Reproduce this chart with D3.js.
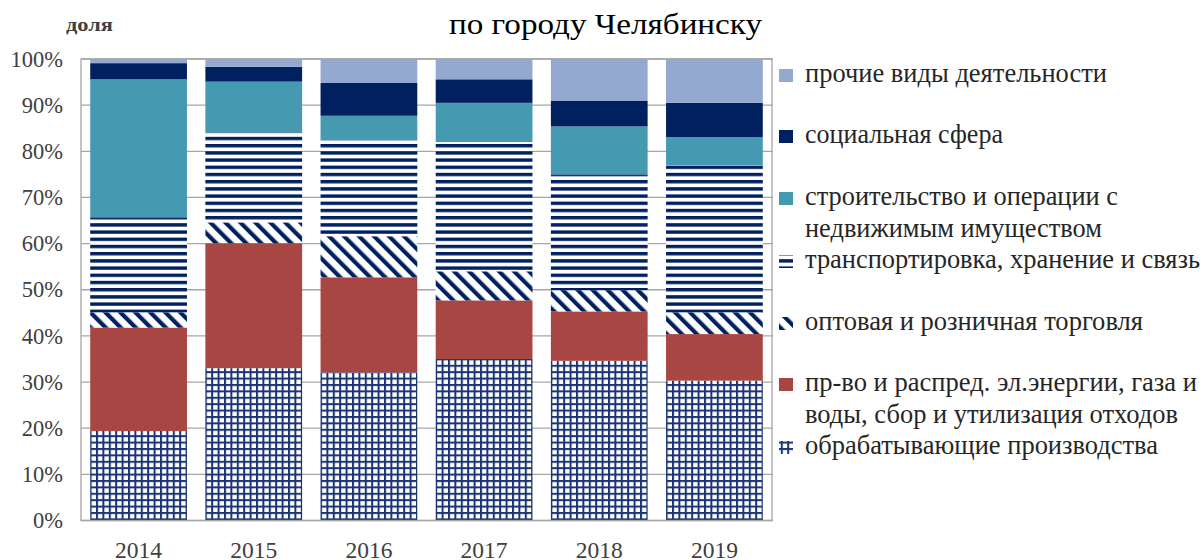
<!DOCTYPE html>
<html><head><meta charset="utf-8">
<script src="https://cdn.jsdelivr.net/npm/d3@7"></script>
<style>body{margin:0;background:#fff}svg{display:block}svg text{font-family:"Liberation Serif","Times New Roman",serif !important}</style>
</head><body><svg id="c" width="1203" height="560"></svg>
<script>
const years = ["2014","2015","2016","2017","2018","2019"];
const seriesNames = [
  "обрабатывающие производства",
  "пр-во и распред. эл.энергии, газа и воды, сбор и утилизация отходов",
  "оптовая и розничная торговля",
  "транспортировка, хранение и связь",
  "строительство и операции с недвижимым имуществом",
  "социальная сфера",
  "прочие виды деятельности"
];
const manufacturing = [19.4, 33.0, 32.1, 35.0, 34.6, 30.3];
const energy        = [22.4, 27.1, 20.6, 12.7, 10.7, 10.1];
const trade         = [3.3, 4.5, 8.9, 6.3, 4.6, 4.7];
const transport     = [20.6, 19.5, 20.8, 28.0, 25.1, 31.8];
const construction  = [29.9, 11.0, 5.3, 8.5, 10.4, 6.2];
const social        = [3.5, 3.2, 7.1, 5.1, 5.5, 7.4];
const other         = [0.9, 1.7, 5.2, 4.4, 9.1, 9.5];
const yTicks = [0,10,20,30,40,50,60,70,80,90,100];
const title = "по городу Челябинску";
const yTitle = "доля";

const allSeries = [manufacturing, energy, trade, transport, construction, social, other];
const keys = ["s0","s1","s2","s3","s4","s5","s6"];
const rows = years.map((y,i)=>{const r={year:y}; keys.forEach((k,j)=>r[k]=allSeries[j][i]); return r;});

const svg = d3.select("#c");
const NAVY = "#002060";
const defs = svg.append("defs");
const ph = defs.append("pattern").attr("id","pH").attr("patternUnits","userSpaceOnUse").attr("width",8).attr("height",7.2);
ph.append("rect").attr("width",8).attr("height",7.2).attr("fill","#fff");
ph.append("rect").attr("y",0).attr("width",8).attr("height",3.4).attr("fill",NAVY);
const pd = defs.append("pattern").attr("id","pD").attr("patternUnits","userSpaceOnUse").attr("width",10.6).attr("height",10.6).attr("patternTransform","rotate(-45)");
pd.append("rect").attr("width",10.6).attr("height",10.6).attr("fill","#fff");
pd.append("rect").attr("x",0).attr("width",4.2).attr("height",10.6).attr("fill",NAVY);
const pg = defs.append("pattern").attr("id","pG").attr("patternUnits","userSpaceOnUse").attr("width",6.4).attr("height",6.4);
pg.append("rect").attr("width",6.4).attr("height",6.4).attr("fill","#fff");
pg.append("rect").attr("x",0).attr("width",2).attr("height",6.4).attr("fill","#1a3571");
pg.append("rect").attr("y",0).attr("width",6.4).attr("height",2).attr("fill","#1a3571");

const fills = ["url(#pG)", "#A84643", "url(#pD)", "url(#pH)", "#4599B1", NAVY, "#93A9CF"];

const L=81, R=772, T=59, B=520.5;
const x = d3.scaleBand().domain(years).range([L,R]).paddingInner(0.16).paddingOuter(0.08);
const y = d3.scaleLinear().domain([0,100]).range([B,T]);

svg.append("g").selectAll("line").data(yTicks).join("line")
  .attr("x1",L).attr("x2",R+1).attr("y1",d=>y(d)).attr("y2",d=>y(d))
  .attr("stroke","#a6a6a6").attr("stroke-width",1.3);

const stack = d3.stack().keys(keys)(rows);
svg.append("g").selectAll("g").data(stack).join("g")
  .attr("fill",(d,i)=>fills[i])
  .selectAll("rect").data(d=>d).join("rect")
  .attr("x",d=>x(d.data.year)).attr("width",x.bandwidth())
  .attr("y",d=>y(d[1])).attr("height",d=>y(d[0])-y(d[1]));

svg.append("rect").attr("x",L).attr("y",T).attr("width",R-L).attr("height",B-T)
  .attr("fill","none").attr("stroke","#a6a6a6").attr("stroke-width",1.3);

const yAxis = d3.axisLeft(y).tickValues(yTicks).tickFormat(d=>d+"%").tickSize(0).tickPadding(18);
const ga = svg.append("g").attr("transform",`translate(${L},0)`).call(yAxis);
ga.select(".domain").remove();
ga.selectAll("text").attr("font-size",22.5).attr("fill","#404040");

const xAxis = d3.axisBottom(x).tickSize(0).tickPadding(21);
const gx = svg.append("g").attr("transform",`translate(0,${B})`).call(xAxis);
gx.select(".domain").remove();
gx.selectAll("text").attr("font-size",23.5).attr("fill","#404040");

svg.append("text").attr("x",449).attr("y",34).attr("font-size",30)
  .attr("textLength",313).attr("lengthAdjust","spacingAndGlyphs").attr("fill","#000").text(title);
svg.append("text").attr("x",66).attr("y",31).attr("font-size",19).attr("font-weight","bold")
  .attr("textLength",47).attr("lengthAdjust","spacingAndGlyphs").attr("fill","#404040").text(yTitle);

const legendLines = [
  {i:6, lines:["прочие виды деятельности"], w:[302], y:74},
  {i:5, lines:["социальная сфера"], w:[198], y:135},
  {i:4, lines:["строительство и операции с","недвижимым имуществом"], w:[313,297], y:197},
  {i:3, lines:["транспортировка, хранение и связь"], w:[395], y:260},
  {i:2, lines:["оптовая и розничная торговля"], w:[338], y:322},
  {i:1, lines:["пр-во и распред. эл.энергии, газа и","воды, сбор и утилизация отходов"], w:[392,373], y:383},
  {i:0, lines:["обрабатывающие производства"], w:[353], y:446}
];
const lg = svg.append("g");
legendLines.forEach(it=>{
  lg.append("rect").attr("x",779).attr("y",it.y-5).attr("width",14).attr("height",13).attr("fill",fills[it.i]);
  it.lines.forEach((t,k)=>{
    lg.append("text").attr("x",805).attr("y",it.y+8+k*31.5).attr("font-size",27)
      .attr("textLength",it.w[k]).attr("lengthAdjust","spacingAndGlyphs").attr("fill","#262626").text(t);
  });
});
</script></body></html>
